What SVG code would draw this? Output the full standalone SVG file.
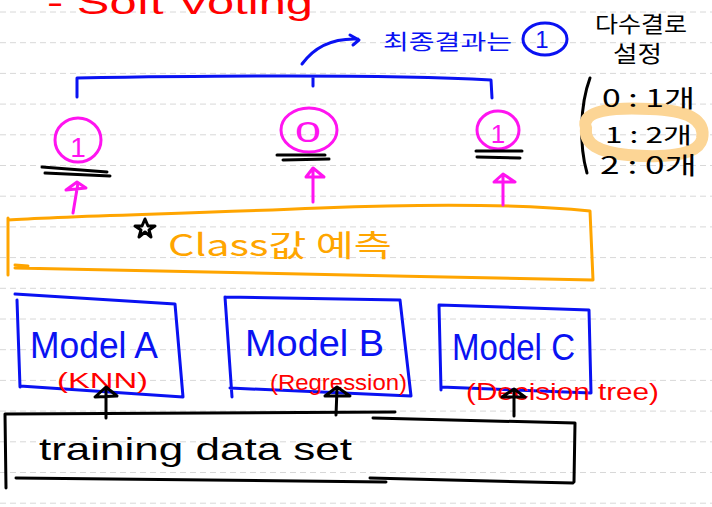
<svg xmlns="http://www.w3.org/2000/svg" width="712" height="507" viewBox="0 0 712 507">
<defs>
<style>
.rule{stroke:#d8d8d8;stroke-width:1;stroke-dasharray:6 4;fill:none}
.ln{fill:none;stroke-linecap:round;stroke-linejoin:round;stroke-width:3}
.blue{stroke:#0a12f2}
.pink{stroke:#ff14f0}
.blk{stroke:#000}
.org{stroke:#ffa500}
.t{font-family:"Liberation Sans","Noto Sans CJK KR",sans-serif}
.k{font-family:"Noto Sans CJK KR","Liberation Sans",sans-serif}
</style>
</defs>
<rect width="712" height="507" fill="#fff"/>
<g id="rules">
<line class="rule" x1="0" y1="12" x2="712" y2="12"/>
<line class="rule" x1="0" y1="42.7" x2="712" y2="42.7"/>
<line class="rule" x1="0" y1="73.4" x2="712" y2="73.4"/>
<line class="rule" x1="0" y1="104.1" x2="712" y2="104.1"/>
<line class="rule" x1="0" y1="134.8" x2="712" y2="134.8"/>
<line class="rule" x1="0" y1="165.5" x2="712" y2="165.5"/>
<line class="rule" x1="0" y1="196.2" x2="712" y2="196.2"/>
<line class="rule" x1="0" y1="226.9" x2="712" y2="226.9"/>
<line class="rule" x1="0" y1="257.6" x2="712" y2="257.6"/>
<line class="rule" x1="0" y1="288.3" x2="712" y2="288.3"/>
<line class="rule" x1="0" y1="319" x2="712" y2="319"/>
<line class="rule" x1="0" y1="349.7" x2="712" y2="349.7"/>
<line class="rule" x1="0" y1="380.4" x2="712" y2="380.4"/>
<line class="rule" x1="0" y1="411.1" x2="712" y2="411.1"/>
<line class="rule" x1="0" y1="441.8" x2="712" y2="441.8"/>
<line class="rule" x1="0" y1="472.5" x2="712" y2="472.5"/>
<line class="rule" x1="0" y1="503.2" x2="712" y2="503.2"/>
</g>

<g id="title">
<text class="t" x="47" y="14" font-size="34" fill="#ff0000" textLength="266" lengthAdjust="spacingAndGlyphs">- Soft Voting</text>
</g>

<g id="final-result">
<text class="k" x="383" y="49" font-size="21" fill="#0a12f2" textLength="129" lengthAdjust="spacingAndGlyphs">최종결과는</text>
<ellipse class="ln blue" cx="545" cy="39" rx="22" ry="16"/>
<text class="t" x="542" y="48" font-size="24" fill="#0a12f2" text-anchor="middle">1</text>
</g>

<g id="majority-note">
<text class="k" x="595" y="32" font-size="22" fill="#000" textLength="92" lengthAdjust="spacingAndGlyphs">다수결로</text>
<text class="k" x="613" y="62" font-size="23" fill="#000" textLength="49" lengthAdjust="spacingAndGlyphs">설정</text>
<path class="ln blk" d="M590,78 C580,105 579,145 587,173"/>
<path d="M586,128 C580,110 615,107 650,109 C688,110 706,120 702,139 C698,156 662,158 628,155 C598,152 584,144 586,128 Z" fill="none" stroke="#fcd595" stroke-width="12"/>
<text class="k" x="602" y="107" font-size="24" fill="#000" textLength="93" lengthAdjust="spacingAndGlyphs">0 : 1개</text>
<text class="k" x="605" y="143" font-size="22" fill="#000" textLength="87" lengthAdjust="spacingAndGlyphs">1 : 2개</text>
<text class="k" x="600" y="174" font-size="24" fill="#000" textLength="97" lengthAdjust="spacingAndGlyphs">2 : 0개</text>
</g>

<g id="vote-a">
<ellipse class="ln pink" cx="78" cy="140" rx="23" ry="22"/>
<text class="t" x="78" y="157" font-size="28" fill="#ff14f0" text-anchor="middle">1</text>
<path class="ln blk" d="M42,167 L107,172 M45,173 L110,176"/>
</g>

<g id="vote-b">
<ellipse class="ln pink" cx="309" cy="130" rx="28" ry="22"/>
<text class="t" x="308" y="142" font-size="30" fill="#ff14f0" text-anchor="middle" textLength="26" lengthAdjust="spacingAndGlyphs">0</text>
<path class="ln blk" d="M277,155 L325,155 M283,160 L329,159"/>
</g>

<g id="vote-c">
<ellipse class="ln pink" cx="498" cy="130" rx="21" ry="19"/>
<text class="t" x="498" y="143" font-size="26" fill="#ff14f0" text-anchor="middle">1</text>
<path class="ln blk" d="M476,151 L522,151 M477,157 L520,158"/>
</g>

<g id="class-predict">
<path class="ln org" d="M8,220 C60,216 180,214 320,208 C420,204 520,204 590,211 L593,280 C400,276 200,272 15,268 M8,218 L8,275 M15,265 L28,266"/>
<path class="ln blk" d="M145,219 L148,226 L155,226 L149,230 L151,237 L145,232 L139,237 L141,230 L135,226 L142,226 Z"/>
<text class="k" x="168" y="256" font-size="30" fill="#ffa500" textLength="224" lengthAdjust="spacingAndGlyphs">Class값 예측</text>
</g>

<g id="model-a">
<path class="ln blue" d="M15,294 L175,304 L183,397 M17,300 L20,387 M20,386 L183,397"/>
<text class="t" x="30" y="358" font-size="36" fill="#0a12f2" textLength="128" lengthAdjust="spacingAndGlyphs">Model A</text>
<text class="t" x="57" y="388" font-size="22" fill="#ff0000" textLength="91" lengthAdjust="spacingAndGlyphs">(KNN)</text>
</g>

<g id="model-b">
<path class="ln blue" d="M225,297 L400,300 L411,396 M225,297 L232,397 M230,388 L411,396"/>
<text class="t" x="245" y="356" font-size="36" fill="#0a12f2" textLength="139" lengthAdjust="spacingAndGlyphs">Model B</text>
<text class="t" x="270" y="390" font-size="22" fill="#ff0000" textLength="137" lengthAdjust="spacingAndGlyphs">(Regression)</text>
</g>

<g id="model-c">
<path class="ln blue" d="M439,305 L589,310 L591,393 M439,305 L441,390 M441,387 L591,393"/>
<text class="t" x="452" y="360" font-size="36" fill="#0a12f2" textLength="123" lengthAdjust="spacingAndGlyphs">Model C</text>
<text class="t" x="466" y="400" font-size="24" fill="#ff0000" textLength="193" lengthAdjust="spacingAndGlyphs">(Decision tree)</text>
</g>

<g id="training-data">
<path class="ln blk" d="M5,414 L395,412 M373,418 L575,423 L574,482 M16,478 L386,482 M370,478 L573,483 M5,414 L6,488"/>
<text class="t" x="39" y="460" font-size="32" fill="#000" textLength="313" lengthAdjust="spacingAndGlyphs">training data set</text>
</g>

<g id="connectors">
<path class="ln blue" d="M77,97 L77,78 C200,76 380,74 491,80 L492,98 M313,77 L313,86"/>
<path class="ln blue" d="M302,64 C315,46 335,38 358,39 M350,35 L359,40 L353,45"/>
<path class="ln pink" d="M73,213 L78,183 M66,190 L77,182 L86,188 Z"/>
<path class="ln pink" d="M313,202 L313,170 M306,177 L313,168 L324,177 Z"/>
<path class="ln pink" d="M503,205 L503,175 M494,182 L503,174 L515,182 Z"/>
<path class="ln blk" d="M106,418 L106,390 M95,397 L106,387 L117,396 Z"/>
<path class="ln blk" d="M336,415 L337,389 M325,396 L337,387 L350,396 Z"/>
<path class="ln blk" d="M514,416 L514,392 M502,397 L514,389 L525,397 Z"/>
</g>
</svg>
